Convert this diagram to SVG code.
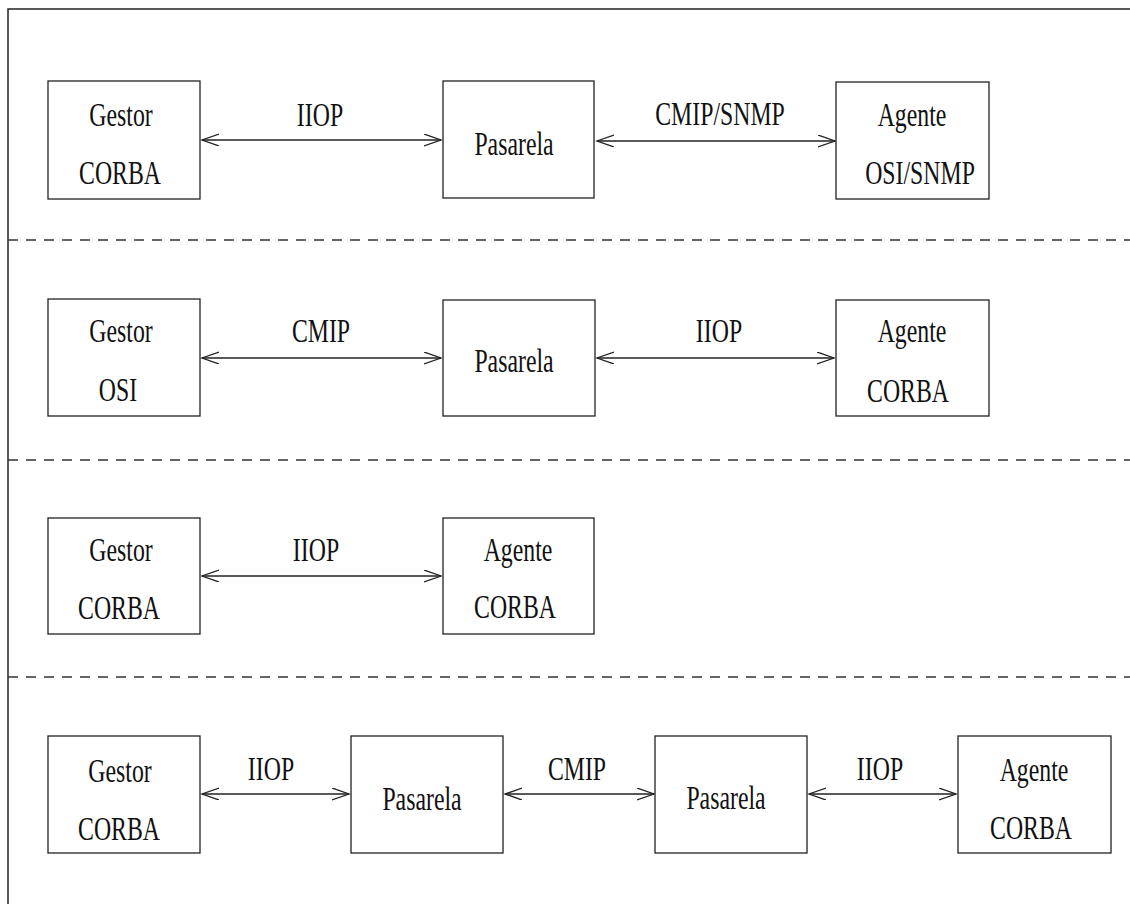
<svg xmlns="http://www.w3.org/2000/svg" width="1130" height="904" viewBox="0 0 1130 904">
  <style>
    .box { fill: #ffffff; stroke: #222; stroke-width: 1.3; }
    .frame { fill: none; stroke: #222; stroke-width: 1.5; }
    .sep { fill: none; stroke: #333; stroke-width: 1.3; stroke-dasharray: 10 8; }
    .link { fill: none; stroke: #222; stroke-width: 1.3; marker-start: url(#head); marker-end: url(#head); }
    .t { font-family: "Liberation Serif", "Times New Roman", serif; font-size: 34px; fill: #111; text-anchor: middle; }
  </style>
  <defs>
    <marker id="head" markerUnits="userSpaceOnUse" markerWidth="20" markerHeight="14" refX="17" refY="6" orient="auto-start-reverse">
      <path d="M0,0 L17,6 L0,12" fill="none" stroke="#222" stroke-width="1.3"/>
    </marker>
  </defs>
  <rect width="1130" height="904" fill="#ffffff"/>

  <!-- outer frame: top and left edges only -->
  <path class="frame" d="M8,904 L8,9 L1130,9"/>

  <!-- section separators -->
  <g id="separators">
    <line class="sep" x1="8" y1="240" x2="1130" y2="240"/>
    <line class="sep" x1="8" y1="460" x2="1130" y2="460"/>
    <line class="sep" x1="8" y1="677" x2="1130" y2="677"/>
  </g>

  <!-- connectors -->
  <g id="connectors">
    <line class="link" x1="202" y1="140" x2="441" y2="140"/>
    <line class="link" x1="597" y1="141" x2="835" y2="141"/>
    <line class="link" x1="202" y1="358" x2="441" y2="358"/>
    <line class="link" x1="597" y1="358" x2="834" y2="358"/>
    <line class="link" x1="202" y1="576" x2="441" y2="576"/>
    <line class="link" x1="202" y1="794" x2="349" y2="794"/>
    <line class="link" x1="505" y1="794" x2="654" y2="794"/>
    <line class="link" x1="809" y1="794" x2="956" y2="794"/>
  </g>

  <!-- connector labels -->
  <g id="labels">
    <text class="t" transform="translate(320 126) scale(0.7 1)">IIOP</text>
    <text class="t" transform="translate(720 125) scale(0.7 1)">CMIP/SNMP</text>
    <text class="t" transform="translate(321 342) scale(0.7 1)">CMIP</text>
    <text class="t" transform="translate(719 342) scale(0.7 1)">IIOP</text>
    <text class="t" transform="translate(316 561) scale(0.7 1)">IIOP</text>
    <text class="t" transform="translate(271 780) scale(0.7 1)">IIOP</text>
    <text class="t" transform="translate(577 780) scale(0.7 1)">CMIP</text>
    <text class="t" transform="translate(880 780) scale(0.7 1)">IIOP</text>
  </g>

  <!-- row 1 -->
  <g id="r1-gestor">
    <rect class="box" x="48" y="81" width="152" height="118"/>
    <text class="t" transform="translate(121 126) scale(0.7 1)">Gestor</text>
    <text class="t" transform="translate(120 184) scale(0.7 1)">CORBA</text>
  </g>
  <g id="r1-pasarela">
    <rect class="box" x="443" y="81" width="151" height="117"/>
    <text class="t" transform="translate(514 155) scale(0.7 1)">Pasarela</text>
  </g>
  <g id="r1-agente">
    <rect class="box" x="836" y="82" width="153" height="117"/>
    <text class="t" transform="translate(912 126) scale(0.7 1)">Agente</text>
    <text class="t" transform="translate(920 184) scale(0.7 1)">OSI/SNMP</text>
  </g>

  <!-- row 2 -->
  <g id="r2-gestor">
    <rect class="box" x="48" y="299" width="152" height="117"/>
    <text class="t" transform="translate(121 342) scale(0.7 1)">Gestor</text>
    <text class="t" transform="translate(118 401) scale(0.7 1)">OSI</text>
  </g>
  <g id="r2-pasarela">
    <rect class="box" x="443" y="300" width="152" height="116"/>
    <text class="t" transform="translate(514 372) scale(0.7 1)">Pasarela</text>
  </g>
  <g id="r2-agente">
    <rect class="box" x="836" y="300" width="153" height="116"/>
    <text class="t" transform="translate(912 342) scale(0.7 1)">Agente</text>
    <text class="t" transform="translate(908 402) scale(0.7 1)">CORBA</text>
  </g>

  <!-- row 3 -->
  <g id="r3-gestor">
    <rect class="box" x="48" y="518" width="152" height="116"/>
    <text class="t" transform="translate(121 561) scale(0.7 1)">Gestor</text>
    <text class="t" transform="translate(119 619) scale(0.7 1)">CORBA</text>
  </g>
  <g id="r3-agente">
    <rect class="box" x="443" y="518" width="151" height="116"/>
    <text class="t" transform="translate(518 561) scale(0.7 1)">Agente</text>
    <text class="t" transform="translate(515 618) scale(0.7 1)">CORBA</text>
  </g>

  <!-- row 4 -->
  <g id="r4-gestor">
    <rect class="box" x="48" y="736" width="152" height="117"/>
    <text class="t" transform="translate(120 782) scale(0.7 1)">Gestor</text>
    <text class="t" transform="translate(119 840) scale(0.7 1)">CORBA</text>
  </g>
  <g id="r4-pasarela1">
    <rect class="box" x="351" y="736" width="152" height="117"/>
    <text class="t" transform="translate(422 810) scale(0.7 1)">Pasarela</text>
  </g>
  <g id="r4-pasarela2">
    <rect class="box" x="655" y="736" width="152" height="117"/>
    <text class="t" transform="translate(726 809) scale(0.7 1)">Pasarela</text>
  </g>
  <g id="r4-agente">
    <rect class="box" x="958" y="736" width="153" height="117"/>
    <text class="t" transform="translate(1034 781) scale(0.7 1)">Agente</text>
    <text class="t" transform="translate(1031 839) scale(0.7 1)">CORBA</text>
  </g>
</svg>
